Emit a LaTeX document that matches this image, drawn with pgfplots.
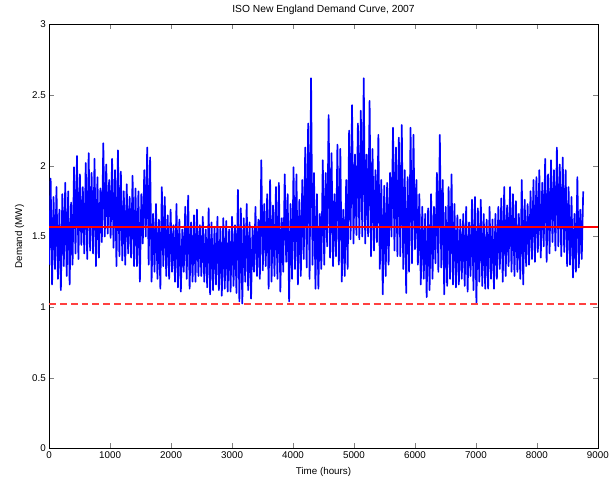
\documentclass[border=0pt]{standalone}
\usepackage{pgfplots}
\pgfplotsset{compat=1.18}
\usepackage{fontspec}
\setmainfont{Liberation Sans}
\definecolor{mblue}{rgb}{0,0,1}
\definecolor{mred}{rgb}{1,0,0}
\definecolor{mpink}{rgb}{1,0.25,0.25}
\begin{document}
\begin{tikzpicture}
\begin{axis}[
scale only axis,width=558bp,height=431bp,
xmin=0,xmax=9000,ymin=0,ymax=3,
xtick={0,1000,...,9000},ytick={0,0.5,1,1.5,2,2.5,3},
yticklabels={0,0.5,1,1.5,2,2.5,3},
scaled x ticks=false,scaled y ticks=false,
xticklabel style={/pgf/number format/1000 sep={}},
/pgf/number format/assume math mode=true,
tick align=inside,tick pos=both,major tick length=5bp,
axis line style={line width=0.6bp},
font=\fontsize{10}{12}\selectfont,
title={ISO New England Demand Curve, 2007},
title style={at={(axis description cs:0.5,1)},anchor=base,yshift=6bp,font=\fontsize{10.5}{12}\selectfont},
xlabel={Time (hours)},
xlabel style={at={(axis description cs:0.5,0)},anchor=center,yshift=-24bp},
ylabel={Demand (MW)},
ylabel style={at={(axis description cs:-0.054,0.5)},anchor=center}]
\addplot[mblue,line width=1.7bp,line join=round] coordinates {
(0,1.30)(24,1.91)(48,1.16)(72,1.78)(96,1.27)(120,1.85)(144,1.20)(168,1.69)(192,1.12)(216,1.80)
(240,1.29)(264,1.88)(288,1.22)(312,1.82)(336,1.16)(360,1.74)(384,1.30)(408,1.99)(432,1.38)(456,2.07)
(480,1.34)(504,1.94)(528,1.44)(552,1.85)(576,1.38)(600,2.02)(624,1.34)(648,2.09)(672,1.40)(696,1.95)
(720,1.38)(744,2.05)(768,1.29)(792,1.92)(816,1.35)(840,1.84)(864,1.46)(888,2.16)(912,1.50)(936,2.01)
(960,1.52)(984,1.90)(1008,1.49)(1032,2.05)(1056,1.42)(1080,1.97)(1104,1.29)(1128,2.11)(1152,1.36)(1176,1.96)
(1200,1.33)(1224,1.82)(1248,1.30)(1272,1.87)(1296,1.38)(1320,1.78)(1344,1.35)(1368,1.93)(1392,1.29)(1416,1.84)
(1440,1.29)(1464,1.82)(1488,1.18)(1512,1.80)(1536,1.45)(1560,1.97)(1584,1.50)(1608,2.13)(1632,1.30)(1656,2.06)
(1680,1.18)(1704,1.66)(1728,1.25)(1752,1.73)(1776,1.20)(1800,1.62)(1824,1.13)(1848,1.85)(1872,1.29)(1896,1.78)
(1920,1.22)(1944,1.65)(1968,1.20)(1992,1.69)(2016,1.25)(2040,1.58)(2064,1.18)(2088,1.73)(2112,1.14)(2136,1.62)
(2160,1.11)(2184,1.55)(2208,1.25)(2232,1.71)(2256,1.20)(2280,1.79)(2304,1.13)(2328,1.60)(2352,1.18)(2376,1.65)
(2400,1.18)(2424,1.69)(2448,1.22)(2472,1.58)(2496,1.22)(2520,1.64)(2544,1.18)(2568,1.55)(2592,1.14)(2616,1.70)
(2640,1.09)(2664,1.60)(2688,1.12)(2712,1.57)(2736,1.16)(2760,1.64)(2784,1.12)(2808,1.56)(2832,1.08)(2856,1.63)
(2880,1.13)(2904,1.61)(2928,1.11)(2952,1.55)(2976,1.11)(3000,1.64)(3024,1.15)(3048,1.58)(3072,1.10)(3096,1.83)
(3120,1.04)(3144,1.70)(3168,1.025)(3192,1.63)(3216,1.18)(3240,1.73)(3264,1.12)(3288,1.60)(3312,1.06)(3336,1.57)
(3360,1.25)(3384,1.71)(3408,1.22)(3432,1.62)(3456,1.20)(3480,2.04)(3504,1.26)(3528,1.73)(3552,1.29)(3576,1.80)
(3600,1.13)(3624,1.90)(3648,1.18)(3672,1.72)(3696,1.22)(3720,1.85)(3744,1.20)(3768,1.88)(3792,1.11)(3816,1.63)
(3840,1.25)(3864,1.94)(3888,1.32)(3912,1.80)(3936,1.04)(3960,1.73)(3984,1.20)(4008,1.99)(4032,1.27)(4056,1.94)
(4080,1.16)(4104,1.76)(4128,1.22)(4152,1.90)(4176,1.34)(4200,2.13)(4224,1.28)(4248,2.30)(4272,1.20)(4296,2.62)
(4320,1.30)(4344,1.95)(4368,1.13)(4392,1.80)(4416,1.13)(4440,1.66)(4464,1.27)(4488,2.04)(4512,1.30)(4536,1.95)
(4560,1.43)(4584,2.36)(4608,1.35)(4632,2.09)(4656,1.29)(4680,1.80)(4704,1.36)(4728,2.15)(4752,1.30)(4776,2.12)
(4800,1.18)(4824,1.69)(4848,1.22)(4872,1.90)(4896,1.27)(4920,2.25)(4944,1.48)(4968,2.43)(4992,1.45)(5016,2.08)
(5040,1.51)(5064,2.30)(5088,1.48)(5112,2.39)(5136,1.50)(5160,2.62)(5184,1.45)(5208,2.08)(5232,1.50)(5256,2.46)
(5280,1.36)(5304,2.12)(5328,1.40)(5352,1.97)(5376,1.46)(5400,2.22)(5424,1.27)(5448,1.90)(5472,1.09)(5496,1.86)
(5520,1.22)(5544,1.88)(5568,1.30)(5592,1.95)(5616,1.50)(5640,2.27)(5664,1.40)(5688,2.13)(5712,1.36)(5736,2.20)
(5760,1.36)(5784,2.29)(5808,1.27)(5832,1.97)(5856,1.10)(5880,1.92)(5904,1.25)(5928,2.27)(5952,1.31)(5976,2.22)
(6000,1.41)(6024,1.90)(6048,1.30)(6072,1.80)(6096,1.16)(6120,1.71)(6144,1.20)(6168,1.66)(6192,1.07)(6216,1.70)
(6240,1.12)(6264,1.80)(6288,1.20)(6312,1.71)(6336,1.31)(6360,1.95)(6384,1.25)(6408,2.22)(6432,1.28)(6456,1.90)
(6480,1.09)(6504,1.71)(6528,1.15)(6552,1.85)(6576,1.20)(6600,1.94)(6624,1.16)(6648,1.73)(6672,1.14)(6696,1.65)
(6720,1.16)(6744,1.62)(6768,1.20)(6792,1.66)(6816,1.15)(6840,1.71)(6864,1.11)(6888,1.60)(6912,1.22)(6936,1.76)
(6960,1.12)(6984,1.78)(7008,1.03)(7032,1.70)(7056,1.18)(7080,1.76)(7104,1.15)(7128,1.66)(7152,1.13)(7176,1.62)
(7200,1.13)(7224,1.71)(7248,1.20)(7272,1.62)(7296,1.13)(7320,1.66)(7344,1.20)(7368,1.71)(7392,1.27)(7416,1.77)
(7440,1.18)(7464,1.85)(7488,1.22)(7512,1.72)(7536,1.29)(7560,1.85)(7584,1.25)(7608,1.80)(7632,1.22)(7656,1.75)
(7680,1.25)(7704,1.66)(7728,1.20)(7752,1.90)(7776,1.16)(7800,1.76)(7824,1.29)(7848,1.73)(7872,1.30)(7896,1.82)
(7920,1.34)(7944,1.90)(7968,1.32)(7992,1.92)(8016,1.39)(8040,1.97)(8064,1.35)(8088,1.88)(8112,1.43)(8136,2.05)
(8160,1.32)(8184,1.94)(8208,1.38)(8232,2.04)(8256,1.46)(8280,1.97)(8304,1.40)(8328,2.13)(8352,1.43)(8376,2.01)
(8400,1.36)(8424,2.06)(8448,1.39)(8472,1.97)(8496,1.29)(8520,1.85)(8544,1.30)(8568,1.78)(8592,1.21)(8616,1.66)
(8640,1.25)(8664,1.92)(8688,1.28)(8712,1.69)(8736,1.34)(8760,1.82)
};
% mean and minimum demand
\addplot[mred,line width=1.4bp] coordinates {(0,1.566)(9000,1.566)};
\addplot[mpink,line width=1.5bp,dash pattern=on 7bp off 4bp] coordinates {(0,1.023)(9000,1.023)};
\node[anchor=base west,inner sep=0pt,font=\fontsize{10}{12}\selectfont] at ([yshift=5bp]rel axis cs:0,1) {×\,10\textsuperscript{4}};
\end{axis}
\path (current axis.south west) ++(-50bp,-29bp) rectangle ++(612bp,485bp);
\end{tikzpicture}
\end{document}
